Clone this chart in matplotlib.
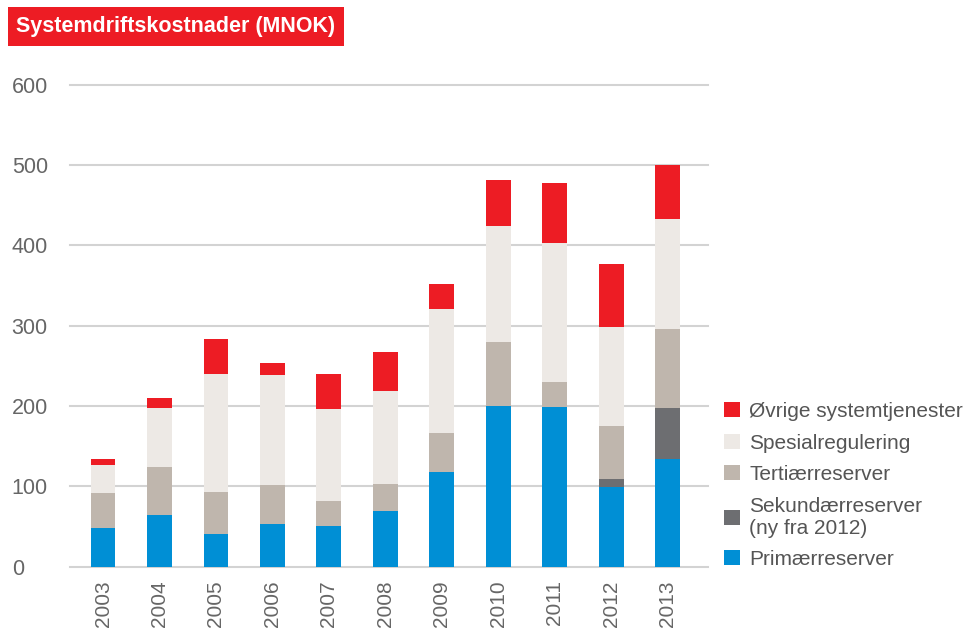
import matplotlib
matplotlib.use("Agg")
import matplotlib.pyplot as plt
import numpy as np
from matplotlib.patches import Patch

plt.rcParams['font.family'] = ['Liberation Sans', 'DejaVu Sans']

years = ["2003", "2004", "2005", "2006", "2007", "2008", "2009", "2010", "2011", "2012", "2013"]
primaer = [48, 64, 41, 53, 51, 69, 118, 200, 199, 99, 134]
sekundaer = [0, 0, 0, 0, 0, 0, 0, 0, 0, 10, 64]
tertiaer = [44, 60, 52, 48, 31, 34, 48, 80, 31, 66, 98]
spesial = [34, 74, 147, 138, 114, 116, 155, 144, 173, 124, 137]
ovrige = [8, 12, 44, 15, 44, 48, 31, 57, 75, 78, 67]

series = [
    ("Primærreserver", primaer, "#008FD5"),
    ("Sekundærreserver\n(ny fra 2012)", sekundaer, "#6D6E71"),
    ("Tertiærreserver", tertiaer, "#BFB6AD"),
    ("Spesialregulering", spesial, "#EDE9E5"),
    ("Øvrige systemtjenester", ovrige, "#ED1C24"),
]

fig = plt.figure(figsize=(9.70, 6.32), dpi=100)
ax = fig.add_axes([0.0722, 0.1036, 0.658, 0.762])

x = np.arange(len(years))
bottom = np.zeros(len(years))
for name, vals, col in series:
    ax.bar(x, vals, bottom=bottom, width=0.44, color=col, zorder=3)
    bottom += np.array(vals)

ax.set_xlim(-0.585, 10.72)
ax.set_ylim(0, 600)
ax.set_yticks([0, 100, 200, 300, 400, 500, 600])
for yv in [0, 100, 200, 300, 400, 500, 600]:
    ax.axhline(yv, color="#D3D3D3", lw=1.5, zorder=1, clip_on=False)

ax.set_xticks(x)
ax.set_xticklabels(years, rotation=90, fontsize=15, color="#666666")
ax.tick_params(axis="x", length=0, pad=10)
ax.tick_params(axis="y", length=0, pad=42, labelsize=15.5, labelcolor="#666666")
for lab in ax.get_yticklabels():
    lab.set_horizontalalignment("left")
for s in ax.spines.values():
    s.set_visible(False)

handles = [Patch(facecolor=col, label=name) for name, vals, col in reversed(series)]
fig.legend(handles=handles, loc="upper left", bbox_to_anchor=(0.738, 0.377),
           frameon=False, fontsize=15, handlelength=0.75, handleheight=0.75,
           handletextpad=0.45, labelspacing=0.6, labelcolor="#555555",
           borderaxespad=0)

fig.text(0.017, 0.958, "Systemdriftskostnader (MNOK)", color="white", fontsize=15.5,
         fontweight="bold", va="center", ha="left",
         bbox=dict(boxstyle="square,pad=0.4", facecolor="#ED1C24", edgecolor="none"))

plt.savefig("out.png", dpi=100)
